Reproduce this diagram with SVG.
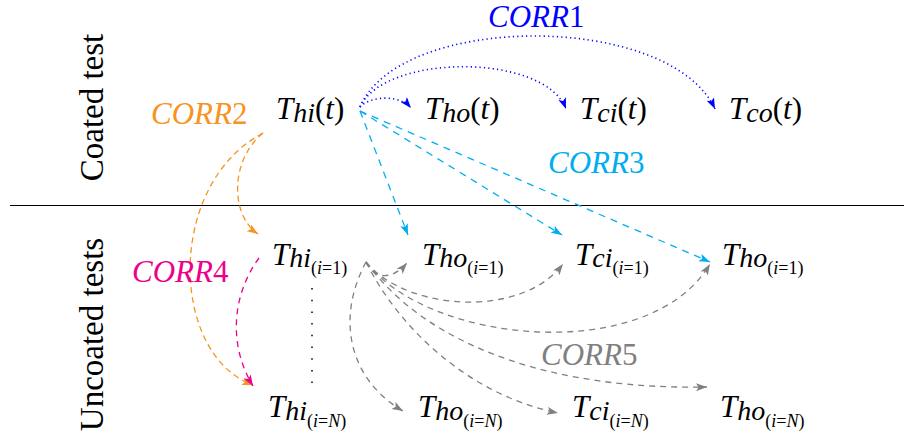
<svg xmlns="http://www.w3.org/2000/svg" width="904" height="439" viewBox="0 0 904 439">
<style>
.m{font-family:"Liberation Serif",serif;font-style:italic;font-size:31px;fill:#000}
.s{font-size:28px}
.ss{font-size:18px}
.u{font-style:normal}
.lab{font-family:"Liberation Serif",serif;font-style:italic;font-size:31px}
.side{font-family:"Liberation Serif",serif;font-size:33px;fill:#000}
.c{fill:none;stroke-width:1.3}
.blue{stroke:#0000ff;stroke-dasharray:1.2 3.2;stroke-width:1.6;marker-end:url(#ab)}
.cyan{stroke:#00aeef;stroke-dasharray:7 6;marker-end:url(#ac)}
.orange{stroke:#f7931e;stroke-dasharray:6 4;marker-end:url(#ao)}
.mag{stroke:#ec008c;stroke-dasharray:6 5;marker-end:url(#am)}
.gray{stroke:#808080;stroke-dasharray:6 5;marker-end:url(#ag)}
</style>
<defs>
<marker id="ab" markerUnits="userSpaceOnUse" markerWidth="12" markerHeight="10" refX="11" refY="4" orient="auto"><path d="M0,0 L11,4 L0,8 L2.5,4 z" fill="#0000ff"/></marker>
<marker id="ac" markerUnits="userSpaceOnUse" markerWidth="12" markerHeight="10" refX="11" refY="4" orient="auto"><path d="M0,0 L11,4 L0,8 L2.5,4 z" fill="#00aeef"/></marker>
<marker id="ao" markerUnits="userSpaceOnUse" markerWidth="12" markerHeight="10" refX="11" refY="4" orient="auto"><path d="M0,0 L11,4 L0,8 L2.5,4 z" fill="#f7931e"/></marker>
<marker id="am" markerUnits="userSpaceOnUse" markerWidth="12" markerHeight="10" refX="11" refY="4" orient="auto"><path d="M0,0 L11,4 L0,8 L2.5,4 z" fill="#ec008c"/></marker>
<marker id="ag" markerUnits="userSpaceOnUse" markerWidth="12" markerHeight="10" refX="11" refY="4" orient="auto"><path d="M0,0 L11,4 L0,8 L2.5,4 z" fill="#808080"/></marker>
</defs>
<rect width="904" height="439" fill="#fff"/>

<g id="sides">
<text class="side" text-anchor="middle" transform="translate(103,107.5) rotate(-90)">Coated test</text>
<text class="side" text-anchor="middle" transform="translate(103,334.5) rotate(-90)">Uncoated tests</text>
<line x1="10" y1="205.5" x2="904" y2="205.5" stroke="#000" stroke-width="1"/>
</g>

<g id="connectors">
<!-- CORR1 -->
<path class="c blue" d="M360,107 C372,95 400,95 411,108"/>
<path class="c blue" d="M360,107 C385,53 545,53 566,109"/>
<path class="c blue" d="M360,107 C400,12 670,12 715,109"/>
<!-- CORR3 -->
<path class="c cyan" d="M360,111 L408,235"/>
<path class="c cyan" d="M360,111 L562,235"/>
<path class="c cyan" d="M360,111 L710,262"/>
<!-- CORR2 -->
<path class="c orange" d="M263,133 C230,160 230,215 258,234"/>
<path class="c orange" d="M263,133 C165,185 170,355 253,385"/>
<!-- CORR4 -->
<path class="c mag" d="M259,258 C232,295 228,345 253,386"/>
<!-- vertical dots -->
<line x1="312" y1="288" x2="312" y2="384" stroke="#000" stroke-width="1.5" stroke-dasharray="1.5 10.2"/>
<!-- CORR5 -->
<path class="c gray" d="M366,262 C375,280 392,280 407,263"/>
<path class="c gray" d="M366,262 C405,310 520,320 563,264"/>
<path class="c gray" d="M366,262 C430,345 650,365 710,264"/>
<path class="c gray" d="M366,262 C430,350 560,390 707,387"/>
<path class="c gray" d="M366,262 C400,330 470,395 558,413"/>
<path class="c gray" d="M366,262 C335,320 350,380 403,411"/>
</g>

<g id="labels">
<text id="corr1" class="lab" x="488" y="27" fill="#0000ff">CORR<tspan class="u">1</tspan></text>
<text id="corr2" class="lab" x="151" y="124" fill="#f7931e">CORR<tspan class="u">2</tspan></text>
<text id="corr3" class="lab" x="548" y="173" fill="#00aeef">CORR<tspan class="u">3</tspan></text>
<text id="corr4" class="lab" x="132" y="282" fill="#ec008c">CORR<tspan class="u">4</tspan></text>
<text id="corr5" class="lab" x="541" y="365" fill="#808080">CORR<tspan class="u">5</tspan></text>
</g>

<g id="n-hi-t"><text class="m" x="276" y="119">T<tspan class="s" dy="2.7">hi</tspan><tspan class="u" dy="-2.7">(</tspan>t<tspan class="u">)</tspan></text></g>
<g id="n-ho-t"><text class="m" x="425" y="119">T<tspan class="s" dy="2.7">ho</tspan><tspan class="u" dy="-2.7">(</tspan>t<tspan class="u">)</tspan></text></g>
<g id="n-ci-t"><text class="m" x="580" y="119">T<tspan class="s" dy="2.7">ci</tspan><tspan class="u" dy="-2.7">(</tspan>t<tspan class="u">)</tspan></text></g>
<g id="n-co-t"><text class="m" x="729" y="119">T<tspan class="s" dy="2.7">co</tspan><tspan class="u" dy="-2.7">(</tspan>t<tspan class="u">)</tspan></text></g>

<g id="n-hi-1"><text class="m" x="272" y="265">T<tspan class="s" dy="2">hi</tspan><tspan class="ss u" dy="7">(</tspan><tspan class="ss">i</tspan><tspan class="ss u">=1)</tspan></text></g>
<g id="n-ho-1"><text class="m" x="422" y="265">T<tspan class="s" dy="2">ho</tspan><tspan class="ss u" dy="7">(</tspan><tspan class="ss">i</tspan><tspan class="ss u">=1)</tspan></text></g>
<g id="n-ci-1"><text class="m" x="575" y="265">T<tspan class="s" dy="2">ci</tspan><tspan class="ss u" dy="7">(</tspan><tspan class="ss">i</tspan><tspan class="ss u">=1)</tspan></text></g>
<g id="n-ho2-1"><text class="m" x="722" y="265">T<tspan class="s" dy="2">ho</tspan><tspan class="ss u" dy="7">(</tspan><tspan class="ss">i</tspan><tspan class="ss u">=1)</tspan></text></g>

<g id="n-hi-N"><text class="m" x="268" y="417">T<tspan class="s" dy="2.5">hi</tspan><tspan class="ss u" dy="7">(</tspan><tspan class="ss">i</tspan><tspan class="ss u">=</tspan><tspan class="ss">N</tspan><tspan class="ss u">)</tspan></text></g>
<g id="n-ho-N"><text class="m" x="418" y="417">T<tspan class="s" dy="2.5">ho</tspan><tspan class="ss u" dy="7">(</tspan><tspan class="ss">i</tspan><tspan class="ss u">=</tspan><tspan class="ss">N</tspan><tspan class="ss u">)</tspan></text></g>
<g id="n-ci-N"><text class="m" x="572" y="417">T<tspan class="s" dy="2.5">ci</tspan><tspan class="ss u" dy="7">(</tspan><tspan class="ss">i</tspan><tspan class="ss u">=</tspan><tspan class="ss">N</tspan><tspan class="ss u">)</tspan></text></g>
<g id="n-ho2-N"><text class="m" x="720" y="417">T<tspan class="s" dy="2.5">ho</tspan><tspan class="ss u" dy="7">(</tspan><tspan class="ss">i</tspan><tspan class="ss u">=</tspan><tspan class="ss">N</tspan><tspan class="ss u">)</tspan></text></g>
</svg>
